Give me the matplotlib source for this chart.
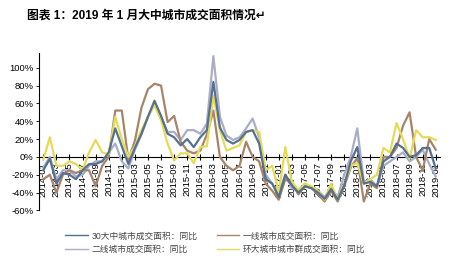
import matplotlib.pyplot as plt
import numpy as np
import pandas as pd

plt.rcParams['font.family'] = ['Liberation Sans', 'Noto Sans CJK SC', 'DejaVu Sans']

months = pd.date_range('2014-01', periods=61, freq='MS').strftime('%Y-%m').tolist()

# 同比 (%), 2014-01 .. 2019-01
big30 = [-15, -2, -30, -18, -20, -25, -15, -8, -8, -5, 5, 32, 12, -8, 10, 26, 45, 63, 46, 26,
         22, 13, 20, 11, 22, 30, 84, 33, 19, 15, 19, 28, 30, 15, -25, -30, -45, -20, -32, -40,
         -33, -35, -40, -47, -36, -48, -32, -5, 11, -30, -28, -33, -5, 0, 15, 10, 0, 2, 10, 10, -13]
tier1 = [-25, -20, -40, -20, -15, -18, -15, -15, -33, -10, 0, 52, 52, -3, 18, 55, 76, 82, 80, 39,
         46, 17, 7, 4, 7, 25, 52, 0, -10, -15, -10, 17, 0, -5, -30, -38, -48, -25, -30, -42,
         -33, -35, -42, -50, -38, -50, -33, -12, -1, -50, -30, -35, 0, 0, 10, 35, 50, 0, -15, 20, 8]
tier2 = [-12, 0, -25, -15, -15, -22, -20, -10, -5, -5, 5, 15, -5, -13, 8, 25, 45, 61, 45, 28,
         28, 19, 30, 30, 26, 37, 113, 45, 24, 19, 22, 32, 43, 22, -20, -30, -42, -20, -35, -38,
         -30, -35, -38, -45, -35, -45, -20, 0, 32, -28, -25, -33, -10, -5, 0, 5, -5, 0, 8, -8, -22]
ring = [-3, 22, -10, -10, -5, -8, -15, 5, 19, 5, 3, 45, 20, 0, 12, 30, 45, 58, 41, 15,
        -4, 4, 4, -7, 11, 12, 69, 30, 7, 10, 13, 28, 30, 28, -15, -10, -40, 11, -28, -37,
        -30, -33, -38, -48, -30, -48, -30, -10, -7, -30, -25, -20, 10, 5, 38, 20, -2, 30, 22, 22, 19]

labels = ['30大中城市成交面积：同比', '二线城市成交面积：同比',
          '一线城市成交面积：同比', '环大城市城市群成交面积：同比']

fig = plt.figure(figsize=(4.58, 2.63), dpi=100)
ax = fig.add_axes([0.086, 0.200, 0.874, 0.600])

x = np.arange(len(months))
l2, = ax.plot(x, tier2, color='#a9aec6', lw=1.6, zorder=2)
l1, = ax.plot(x, tier1, color='#a8846a', lw=1.6, zorder=3)
l4, = ax.plot(x, ring, color='#e4dc58', lw=1.6, zorder=4)
l0, = ax.plot(x, big30, color='#56708f', lw=1.6, zorder=5)

ax.set_xlim(-0.6, 60.6)
ax.set_ylim(-60, 117)
ax.set_yticks(range(-60, 101, 20))
ax.set_yticklabels(['%d%%' % v for v in range(-60, 101, 20)])
ax.set_xticks(x[::2])
ax.set_xticklabels(months[::2])

for s in ['top', 'right']:
    ax.spines[s].set_visible(False)
ax.spines['bottom'].set_position(('data', 0))
ax.spines['bottom'].set_zorder(1)
ax.spines['left'].set_linewidth(0.8)
ax.tick_params(axis='x', direction='inout', length=5, width=0.8, pad=1, labelsize=6.8,
               colors='black', labelrotation=90)
ax.tick_params(axis='y', length=2, width=0.6, pad=2, labelsize=6.8, colors='black')

fig.text(0.058, 0.94, '图表 1：2019 年 1 月大中城市成交面积情况↵', fontsize=8.5,
         fontweight='bold', va='center')

leg = fig.legend([l0, l2, l1, l4], labels, loc='upper left', bbox_to_anchor=(0.125, 0.15),
                 ncol=2, frameon=False, fontsize=6.3, handlelength=2.6, columnspacing=2.2,
                 labelspacing=0.5, handletextpad=0.4)
for t in leg.get_texts():
    t.set_color('#444444')
for h in leg.legend_handles:
    h.set_linewidth(1.0)

fig.savefig('out.png', dpi=100)
